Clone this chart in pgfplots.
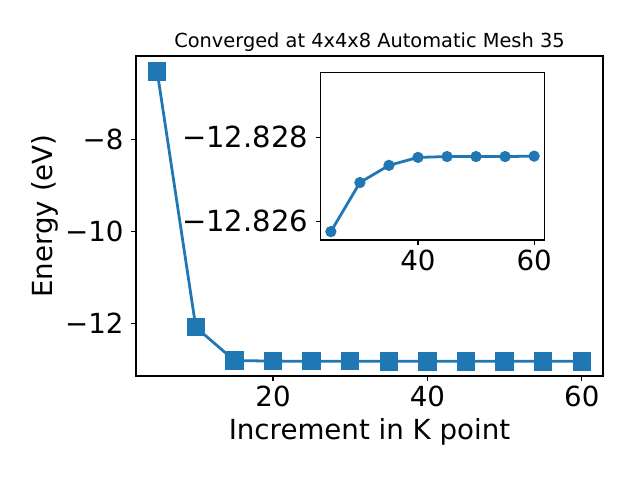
\documentclass[border=0pt]{standalone}
\usepackage{fontspec}
\setmainfont{DejaVu Sans}
\usepackage{pgfplots}
\pgfplotsset{compat=1.18}
\definecolor{mplblue}{HTML}{1F77B4}
\pgfplotsset{
  mplstyle/.style={
    scale only axis,
    axis line style={line width=0.8bp},
    tick align=outside,
    major tick length=3.5bp,
    every tick/.style={black, line width=0.8bp},
    tick label style={font=\fontsize{20}{24}\selectfont},
    yticklabel style={xshift=-2bp},
    xtick pos=bottom, ytick pos=left,
    scaled x ticks=false, scaled y ticks=false,
    /pgf/number format/assume math mode=true,
  }
}
\begin{document}
\begin{tikzpicture}
\path[use as bounding box] (0,0) rectangle (6.4in,4.8in);
\begin{axis}[
  mplstyle,
  at={(1.36in,1.04in)}, anchor=south west,
  width=4.67in, height=3.2in,
  xmin=2.25, xmax=62.75, ymin=-13.146, ymax=-6.19,
  xtick={20,40,60},
  ytick={-12,-10,-8},
  yticklabels={−12,−10,−8},
  xlabel={Increment in K point},
  ylabel={Energy (eV)},
  every axis x label/.style={at={(axis description cs:0.5,-0.175)}, anchor=center, font=\fontsize{20}{24}\selectfont},
  every axis y label/.style={at={(axis description cs:-0.195,0.5)}, anchor=center, rotate=90, font=\fontsize{20}{24}\selectfont},
  title={Converged at 4x4x8 Automatic Mesh 35},
  every axis title/.style={at={(axis description cs:0.5,1.044)}, anchor=center, font=\fontsize{14}{17}\selectfont},
]
\addplot[mplblue, line width=2bp, mark=square*, mark size=5.6bp, mark options={solid, fill=mplblue, draw=mplblue}] coordinates {
(5,-6.53) (10,-12.087) (15,-12.81) (20,-12.822) (25,-12.82575) (30,-12.82692) (35,-12.82733) (40,-12.82752) (45,-12.82754) (50,-12.82754) (55,-12.82754) (60,-12.82755)
};
\end{axis}
\begin{axis}[
  mplstyle,
  at={(3.207in,2.40in)}, anchor=south west,
  width=2.236in, height=1.673in,
  xmin=23.25, xmax=61.75, ymin=-12.82954, ymax=-12.82555,
  y dir=reverse,
  xtick={40,60},
  ytick={-12.828,-12.826},
  yticklabels={−12.828,−12.826},
  yticklabel style={font=\fontsize{21}{25}\selectfont},
  axis background/.style={fill=white},
]
\addplot[mplblue, line width=2bp, mark=*, mark size=3bp, mark options={solid, fill=mplblue, draw=mplblue}] coordinates {
(25,-12.82575) (30,-12.82692) (35,-12.82733) (40,-12.82752) (45,-12.82754) (50,-12.82754) (55,-12.82754) (60,-12.82755)
};
\end{axis}
\end{tikzpicture}
\end{document}
